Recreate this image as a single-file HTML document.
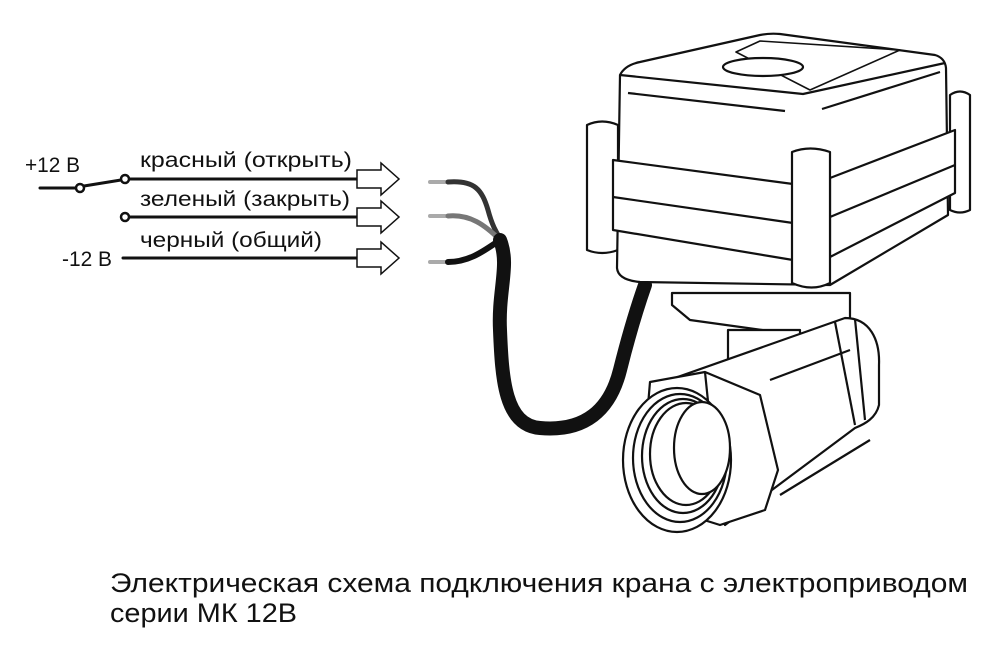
<!DOCTYPE html>
<html><head><meta charset="utf-8"><style>
html,body{margin:0;padding:0;background:#fff;}
svg{display:block;}
text{font-family:"Liberation Sans",sans-serif;fill:#111;}
</style></head><body>
<svg width="1000" height="660" viewBox="0 0 1000 660" xmlns="http://www.w3.org/2000/svg">
<g stroke="#111" stroke-width="3" fill="none" stroke-linecap="round">
 <line x1="40" y1="188" x2="76" y2="188"/>
 <line x1="84" y1="186" x2="121" y2="180"/>
 <line x1="129" y1="179" x2="357" y2="179"/>
 <line x1="129" y1="217" x2="357" y2="217"/>
 <line x1="123" y1="258" x2="357" y2="258"/>
</g>
<g stroke="#111" stroke-width="2.5" fill="#fff">
 <circle cx="80" cy="188" r="4"/>
 <circle cx="125" cy="179" r="4"/>
 <circle cx="125" cy="217" r="4"/>
</g>
<g stroke="#111" stroke-width="1.5" fill="#fff" stroke-linejoin="miter">
 <path d="M357 170 H381 V163 L399 179 L381 195 V188 H357 Z"/>
 <path d="M357 208 H381 V201 L399 217 L381 233 V226 H357 Z"/>
 <path d="M357 249 H381 V242 L399 258 L381 274 V267 H357 Z"/>
</g>
<text x="25" y="172" font-size="21" textLength="55" lengthAdjust="spacingAndGlyphs">+12 В</text>
<text x="140" y="167" font-size="21" textLength="212" lengthAdjust="spacingAndGlyphs">красный (открыть)</text>
<text x="140" y="206" font-size="21" textLength="210" lengthAdjust="spacingAndGlyphs">зеленый (закрыть)</text>
<text x="140" y="247" font-size="21" textLength="182" lengthAdjust="spacingAndGlyphs">черный (общий)</text>
<text x="62" y="266" font-size="21" textLength="50" lengthAdjust="spacingAndGlyphs">-12 В</text>

<!-- wires -->
<g fill="none" stroke-linecap="round">
 <path d="M430 182 H448" stroke="#aaa" stroke-width="4"/>
 <path d="M430 216 H448" stroke="#aaa" stroke-width="4"/>
 <path d="M430 262 H448" stroke="#aaa" stroke-width="4"/>
 <path d="M448 182 C475 180 482 190 488 210 C492 225 496 232 500 238" stroke="#333" stroke-width="5"/>
 <path d="M448 216 C470 214 485 225 500 240" stroke="#777" stroke-width="5"/>
 <path d="M448 262 C470 262 485 250 500 240" stroke="#111" stroke-width="6"/>
 <path d="M500 240 C510 265 498 290 500 330 C502 380 505 425 540 428 C585 432 610 410 620 370 C630 330 638 305 645 285" stroke="#111" stroke-width="14"/>
</g>

<!-- valve body -->
<g stroke="#111" stroke-width="2.2" fill="#fff" stroke-linejoin="round">
 <path d="M672 293 L850 293 L850 318 L812 337 L690 320 L672 305 Z"/>
 <path d="M728 330 H800 V364 H728 Z"/>
 <path d="M655 385 L845 318 C870 318 880 340 879 365 L879 405 C876 418 865 424 855 428 L725 525 Z"/>
 <line x1="835" y1="322" x2="855" y2="425"/>
 <line x1="855" y1="319" x2="865" y2="420"/>
 <line x1="770" y1="380" x2="850" y2="350"/>
 <line x1="780" y1="495" x2="870" y2="440"/>
 <path d="M650 382 L705 372 L760 395 L778 470 L765 510 L720 525 L640 500 Z"/>
 <line x1="705" y1="372" x2="715" y2="470"/>
 <ellipse cx="677" cy="460" rx="54" ry="72"/>
 <ellipse cx="680" cy="458" rx="47" ry="64"/>
 <ellipse cx="683" cy="456" rx="41" ry="57"/>
 <ellipse cx="686" cy="454" rx="36" ry="51"/>
 <ellipse cx="702" cy="448" rx="28" ry="46"/>
</g>
<!-- actuator -->
<g stroke="#111" stroke-width="2.2" fill="#fff" stroke-linejoin="round">
 <path d="M587 125 Q602 118 618 125 V250 Q602 256 587 250 Z"/>
 <path d="M950 95 Q960 88 970 95 V210 Q960 215 950 210 Z"/>
 <path d="M620 75 Q625 65 640 62 L760 35 Q770 33 780 34 L935 55 Q945 58 946 68 L948 215 L830 285 L640 282 Q618 280 617 268 Z"/>
 <path d="M620 75 L803 94 L945 63" fill="none"/>
 <line x1="628" y1="93" x2="785" y2="111"/>
 <line x1="822" y1="109" x2="940" y2="72"/>
 <path d="M736 52 L760 41 L900 50 L810 90 Z" fill="none" stroke-width="1.6"/>
 <ellipse cx="763" cy="67" rx="40" ry="9"/>
 <path d="M613 160 L793 184 L793 260 L613 230 Z"/>
 <line x1="613" y1="197" x2="793" y2="223"/>
 <path d="M830 178 L955 130 L955 193 L830 257 Z"/>
 <line x1="830" y1="217" x2="955" y2="165"/>
 <path d="M792 152 Q810 145 830 152 V283 Q812 292 792 283 Z"/>
</g>

<text x="110" y="592" font-size="27" textLength="858" lengthAdjust="spacingAndGlyphs">Электрическая схема подключения крана с электроприводом</text>
<text x="110" y="622" font-size="27" textLength="187" lengthAdjust="spacingAndGlyphs">серии МК 12В</text>
</svg>
</body></html>
